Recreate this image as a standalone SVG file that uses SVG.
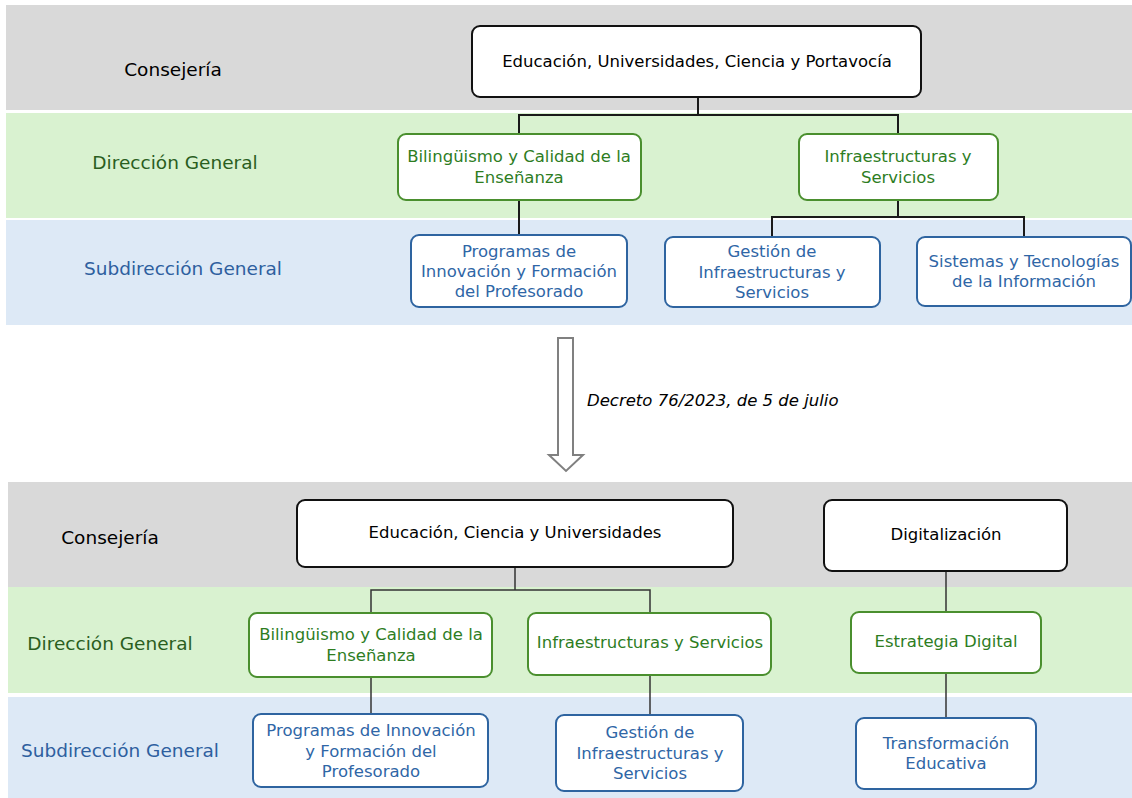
<svg xmlns="http://www.w3.org/2000/svg" width="1132" height="798" viewBox="0 0 1132 798">
<style>
.band-g{fill:#d9d9d9}
.band-v{fill:#d9f2d0}
.band-b{fill:#dde9f6}
.side{font-family:"DejaVu Sans",sans-serif;font-size:18.5px;text-anchor:middle}
.t{font-family:"DejaVu Sans",sans-serif;font-size:16.5px;text-anchor:middle}
.bk rect{fill:#fff;stroke:#111;stroke-width:2}
.gr rect{fill:#fff;stroke:#4a8f2e;stroke-width:2}
.bl rect{fill:#fff;stroke:#2e64a0;stroke-width:2}
.bk text{fill:#000}
.gr text{fill:#2e7d1f}
.bl text{fill:#2f66a6}
.conn path{fill:none;stroke:#1a1a1a;stroke-width:2}
.conn2 path{fill:none;stroke:#333;stroke-width:1.5}
</style>
<rect width="1132" height="798" fill="#fff"/>
<g id="bands">
<rect class="band-g" x="6" y="5" width="1126" height="105"/>
<rect class="band-v" x="6" y="113" width="1126" height="105"/>
<rect class="band-b" x="6" y="220" width="1126" height="105"/>
<rect class="band-g" x="8" y="482" width="1124" height="105"/>
<rect class="band-v" x="8" y="587" width="1124" height="106"/>
<rect class="band-b" x="8" y="697" width="1124" height="101"/>
</g>
<g id="labels">
<text class="side" x="173" y="76" fill="#000">Consejería</text>
<text class="side" x="175" y="169" fill="#2a5e1e">Dirección General</text>
<text class="side" x="183" y="275" fill="#2e5f9f">Subdirección General</text>
<text class="side" x="110" y="544" fill="#000">Consejería</text>
<text class="side" x="110" y="650" fill="#2a5e1e">Dirección General</text>
<text class="side" x="120" y="757" fill="#2e5f9f">Subdirección General</text>
</g>
<g id="connectors">
<g class="conn">
<path d="M698 97V115M519 135V115H898V135"/>
<path d="M519 200V236"/>
<path d="M898 200V217M772 237V217H1024V237"/>
</g>
<g class="conn2">
<path d="M515 567V590M371 613V590H650V613"/>
<path d="M946 571V612"/>
<path d="M371 677V714"/>
<path d="M650 675V715"/>
<path d="M946 673V718"/>
</g>
</g>
<g id="n-root1" class="bk"><rect x="472" y="26" width="449" height="71" rx="8"/><text class="t" x="697" y="67">Educación, Universidades, Ciencia y Portavocía</text></g>
<g id="n-bil1" class="gr"><rect x="398" y="134" width="243" height="66" rx="8"/><text class="t" x="519" y="162">Bilingüismo y Calidad de la</text><text class="t" x="519" y="183">Enseñanza</text></g>
<g id="n-inf1" class="gr"><rect x="799" y="134" width="199" height="66" rx="8"/><text class="t" x="898" y="162">Infraestructuras y</text><text class="t" x="898" y="183">Servicios</text></g>
<g id="n-prog1" class="bl"><rect x="411" y="235" width="216" height="72" rx="8"/><text class="t" x="519" y="257">Programas de</text><text class="t" x="519" y="277">Innovación y Formación</text><text class="t" x="519" y="297">del Profesorado</text></g>
<g id="n-ges1" class="bl"><rect x="665" y="237" width="215" height="70" rx="8"/><text class="t" x="772" y="257">Gestión de</text><text class="t" x="772" y="278">Infraestructuras y</text><text class="t" x="772" y="298">Servicios</text></g>
<g id="n-sis1" class="bl"><rect x="917" y="237" width="214" height="69" rx="8"/><text class="t" x="1024" y="267">Sistemas y Tecnologías</text><text class="t" x="1024" y="287">de la Información</text></g>
<g id="arrow">
<path d="M558 338H573V455H583L566 471L549 455H558Z" fill="#fff" stroke="#808080" stroke-width="2"/>
<text x="587" y="406" font-family="DejaVu Sans,sans-serif" font-size="16.5" font-style="italic" fill="#000">Decreto 76/2023, de 5 de julio</text>
</g>
<g id="n-root2" class="bk"><rect x="297" y="500" width="436" height="67" rx="8"/><text class="t" x="515" y="538">Educación, Ciencia y Universidades</text></g>
<g id="n-dig" class="bk"><rect x="824" y="500" width="243" height="71" rx="8"/><text class="t" x="946" y="540">Digitalización</text></g>
<g id="n-bil2" class="gr"><rect x="249" y="613" width="243" height="64" rx="8"/><text class="t" x="371" y="640">Bilingüismo y Calidad de la</text><text class="t" x="371" y="661">Enseñanza</text></g>
<g id="n-inf2" class="gr"><rect x="528" y="613" width="243" height="62" rx="8"/><text class="t" x="650" y="648">Infraestructuras y Servicios</text></g>
<g id="n-est" class="gr"><rect x="851" y="612" width="190" height="61" rx="8"/><text class="t" x="946" y="647">Estrategia Digital</text></g>
<g id="n-prog2" class="bl"><rect x="253" y="714" width="235" height="73" rx="8"/><text class="t" x="371" y="736">Programas de Innovación</text><text class="t" x="371" y="757">y Formación del</text><text class="t" x="371" y="777">Profesorado</text></g>
<g id="n-ges2" class="bl"><rect x="556" y="715" width="187" height="76" rx="8"/><text class="t" x="650" y="738">Gestión de</text><text class="t" x="650" y="759">Infraestructuras y</text><text class="t" x="650" y="779">Servicios</text></g>
<g id="n-tra" class="bl"><rect x="856" y="718" width="180" height="71" rx="8"/><text class="t" x="946" y="749">Transformación</text><text class="t" x="946" y="769">Educativa</text></g>
</svg>
